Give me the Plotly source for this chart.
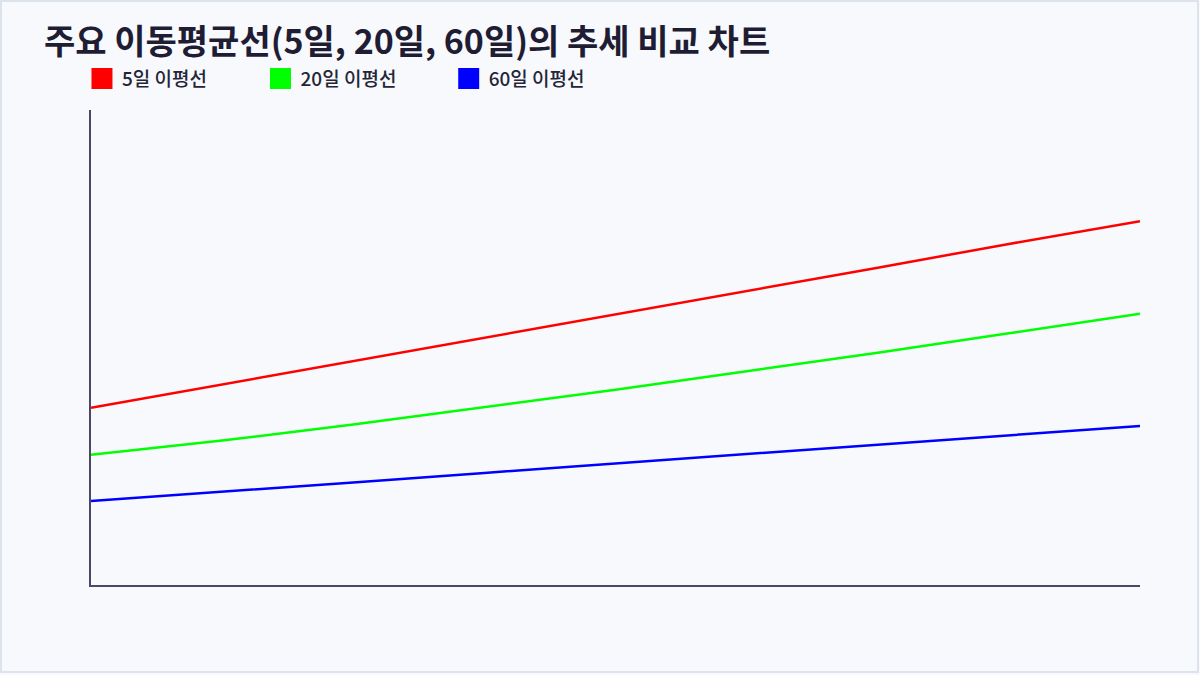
import plotly.graph_objects as go

# 기간(틱 라벨은 표시하지 않음)
periods = ['1주', '2주', '3주', '4주', '5주', '6주', '7주', '8주', '9주']

# 이동평균선 값
ma5 = [37.3, 42.2, 47.1, 52.0, 57.0, 61.9, 66.8, 71.8, 76.6]
ma20 = [27.4, 30.4, 33.8, 37.5, 41.1, 45.0, 48.9, 53.0, 57.1]
ma60 = [17.7, 19.6, 21.6, 23.6, 25.6, 27.6, 29.5, 31.5, 33.5]

names = ['5일 이평선', '20일 이평선', '60일 이평선']
colors = ['#ff0000', '#00ff00', '#0000ff']
legend_ids = ['legend', 'legend2', 'legend3']

FONT = 'Noto Sans CJK KR'
BG = '#f7f9fd'

fig = go.Figure()

for vals, name, color, lg in zip([ma5, ma20, ma60], names, colors, legend_ids):
    fig.add_trace(go.Scatter(
        x=periods, y=vals, mode='lines', name=name,
        line=dict(color=color, width=2.5),
        showlegend=False, hoverinfo='skip'
    ))
    # legend entry drawn as a filled square
    fig.add_trace(go.Scatter(
        x=[None], y=[None], mode='markers', name=name, legend=lg,
        marker=dict(symbol='square', size=16, color=color,
                    line=dict(color=color, width=5))
    ))

legend_style = dict(
    orientation='h', xanchor='left', yanchor='middle', y=1.066,
    bgcolor='rgba(0,0,0,0)', itemsizing='trace',
    font=dict(family=FONT, size=19, color='#252538', weight=500)
)

fig.update_layout(
    width=1200, height=675,
    margin=dict(l=91, r=60, t=110, b=90),
    paper_bgcolor=BG, plot_bgcolor=BG,
    title=dict(
        text='<b>주요 이동평균선(5일, 20일, 60일)의 추세 비교 차트</b>',
        x=44 / 1200, xref='container', xanchor='left',
        y=1 - 42 / 675, yref='container', yanchor='middle',
        font=dict(family=FONT, size=34, color='#1f1d33')
    ),
    legend=dict(x=-0.0086, **legend_style),
    legend2=dict(x=0.1616, **legend_style),
    legend3=dict(x=0.341, **legend_style),
    xaxis=dict(
        type='category', range=[0, len(periods) - 1],
        showline=True, linecolor='#4a4867', linewidth=2,
        showticklabels=False, ticks='', showgrid=False, zeroline=False
    ),
    yaxis=dict(
        range=[0, 100],
        showline=True, linecolor='#4a4867', linewidth=2,
        showticklabels=False, ticks='', showgrid=False, zeroline=False
    ),
    shapes=[dict(
        type='rect', xref='paper', yref='paper',
        x0=(1 - 91) / 1049, x1=(1198 - 91) / 1049,
        y0=(585 - 672) / 475, y1=(585 - 1) / 475,
        line=dict(color='#dde3ea', width=2), fillcolor='rgba(0,0,0,0)',
        layer='below'
    )]
)

fig.write_html('out.html', config={'displayModeBar': False},
               post_script="document.body.style.margin='0';")
